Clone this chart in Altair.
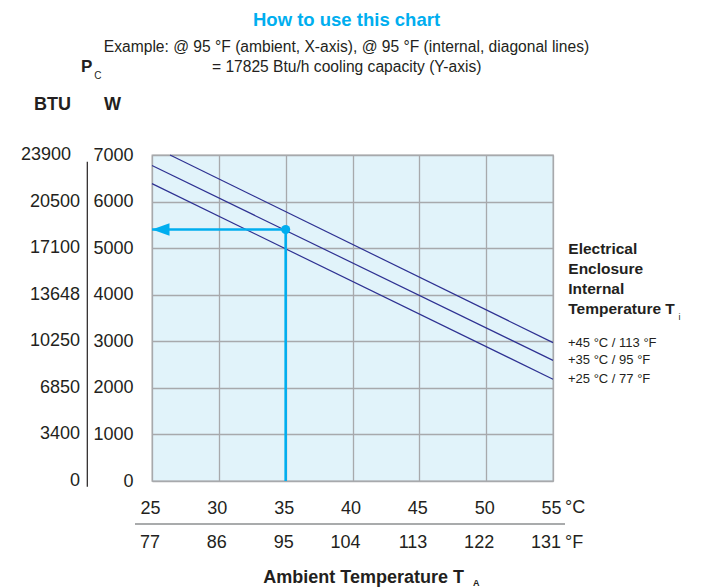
import altair as alt
import pandas as pd

# ---------------- data ----------------
series_names = ["+45 °C / 113 °F", "+35 °C / 95 °F", "+25 °C / 77 °F"]
start_temp = [26.35, 25, 25]
start_watt = [7000, 6775, 6385]
end_temp = [55, 55, 55]
end_watt = [2972, 2590, 2185]

temp_c = [25, 30, 35, 40, 45, 50, 55]
temp_f = ["77", "86", "95", "104", "113", "122", "131"]
watt_ticks = [0, 1000, 2000, 3000, 4000, 5000, 6000, 7000]
btu_ticks = ["0", "3400", "6850", "10250", "13648", "17100", "20500", "23900"]

example_temp = 35
example_watt = 5400
example_floor = 0
arrow_temp = 25

# ---------------- styles ----------------
FONT = "Liberation Sans"
TEXT = "#231f20"
NAVY = "#2e3192"
CYAN = "#00aeef"
GRID = "#a7a9ac"
BG = "#e1f3fa"

W, H = 401, 326

rows = []
for s, t0, w0, t1, w1 in zip(series_names, start_temp, start_watt, end_temp, end_watt):
    rows.append({"series": s, "T": t0, "W": w0, "o": 0})
    rows.append({"series": s, "T": t1, "W": w1, "o": 1})
lines_df = pd.DataFrame(rows)
ends_df = pd.DataFrame({"series": series_names, "T": end_temp, "W": end_watt})
axis_df = pd.DataFrame({"W": watt_ticks, "btu": btu_ticks})
f_df = pd.DataFrame({"T": temp_c, "f": temp_f})
ex_df = pd.DataFrame({"T": [example_temp], "W": [example_watt], "W0": [example_floor], "T2": [arrow_temp]})

xscale = alt.Scale(domain=[25, 55], nice=False, zero=False)
yscale = alt.Scale(domain=[0, 7000], nice=False)
xaxis = alt.Axis(values=temp_c, grid=True, ticks=False, tickSize=0, domain=False, format="d",
                 labelAlign="right", labelOffset=8, labelPadding=27, labelBaseline="middle",
                 labelFontSize=18, labelFont=FONT, labelColor=TEXT, gridColor=GRID, gridWidth=1.3,
                 gridOpacity=1)
yaxis = alt.Axis(values=watt_ticks, grid=True, ticks=False, tickSize=0, domain=False, format="d",
                 labelAlign="right", labelPadding=19, labelBaseline="middle",
                 labelFontSize=18, labelFont=FONT, labelColor=TEXT, gridColor=GRID, gridWidth=1.3,
                 gridOpacity=1)

X = lambda f="T": alt.X(f"{f}:Q", scale=xscale, axis=xaxis, title=None)
Y = lambda f="W": alt.Y(f"{f}:Q", scale=yscale, axis=yaxis, title=None)

lines = alt.Chart(lines_df).mark_line(color=NAVY, strokeWidth=1.2).encode(
    x=X(), y=Y(), detail="series:N", order="o:Q")

legend_text = alt.Chart(ends_df).mark_text(align="left", baseline="middle", dx=15,
                                           fontSize=13, font=FONT, color=TEXT).encode(
    x=X(), y=Y(), text="series:N")

vrule = alt.Chart(ex_df).mark_rule(color=CYAN, strokeWidth=2.6).encode(
    x=X(), y=Y(), y2="W0:Q")
hrule = alt.Chart(ex_df).mark_rule(color=CYAN, strokeWidth=2.6).encode(
    x=X(), x2="T2:Q", y=Y())
arrow = alt.Chart(ex_df).mark_point(shape="M0,0L2,-0.72L2,0.72Z", filled=True, size=306,
                                    color=CYAN, opacity=1, strokeWidth=0).encode(
    x=X("T2"), y=Y())
dot = alt.Chart(ex_df).mark_circle(color=CYAN, size=82, opacity=1).encode(x=X(), y=Y())

btu_low = alt.Chart(axis_df).transform_filter("datum.W < 7000").mark_text(
    align="right", baseline="middle", fontSize=18, font=FONT, color=TEXT).encode(
    x=alt.value(-72), y=Y(), text="btu:N")
btu_top = alt.Chart(axis_df).transform_filter("datum.W >= 7000").mark_text(
    align="right", baseline="middle", fontSize=18, font=FONT, color=TEXT).encode(
    x=alt.value(-81), y=Y(), text="btu:N")

f_text = alt.Chart(f_df).mark_text(align="right", baseline="middle", dx=8, fontSize=18,
                                   font=FONT, color=TEXT).encode(
    x=X(), y=alt.value(388), text="f:N")

one = pd.DataFrame({"a": [0]})


def label(text, x, y, size, weight="normal", align="center", color=TEXT):
    return alt.Chart(one).mark_text(text=text, align=align, baseline="middle", fontSize=size,
                                    fontWeight=weight, font=FONT, color=color).encode(
        x=alt.value(x), y=alt.value(y))


def rule(x, x2, y, y2, color, width):
    return alt.Chart(one).mark_rule(color=color, strokeWidth=width).encode(
        x=alt.value(x), x2=alt.value(x2), y=alt.value(y), y2=alt.value(y2))


texts = [
    label("How to use this chart", 194.5, -135.5, 18.5, "bold", color=CYAN),
    label("Example: @ 95 °F (ambient, X-axis), @ 95 °F (internal, diagonal lines)", 194.5, -108.5, 15.6),
    label("= 17825 Btu/h cooling capacity (Y-axis)", 194.7, -88.5, 15.6),
    label("P", -65.3, -88.5, 17, "bold"),
    label("C", -54.2, -79, 10),
    label("BTU", -99.5, -49.7, 18, "bold"),
    label("W", -39.6, -49.7, 18, "bold"),
    label("°C", 413, 353.3, 18, align="left"),
    label("°F", 413, 388.3, 18, align="left"),
    label("Ambient Temperature T", 111.3, 422.5, 18, "bold", align="left"),
    label("A", 321, 427.5, 9, "bold", align="left"),
    label("Electrical", 416.3, 94, 15.5, "bold", align="left"),
    label("Enclosure", 416.3, 114, 15.5, "bold", align="left"),
    label("Internal", 416.3, 134, 15.5, "bold", align="left"),
    label("Temperature T", 416.3, 154, 15.5, "bold", align="left"),
    label("i", 526.5, 161.5, 9, align="left"),
]

rules = [
    rule(-64.7, -64.7, 6.7, 331.7, "#231f20", 1.2),
    rule(-17, 413, 369, 369, "#8d8f91", 1.6),
]

chart = alt.layer(lines, legend_text, vrule, hrule, arrow, dot, btu_low, btu_top, f_text,
                  *texts, *rules).properties(
    width=W, height=H,
    autosize=alt.AutoSizeParams(type="none"),
    padding={"left": 144, "top": 147, "right": 142, "bottom": 106},
    background="white",
).configure_view(fill=BG, stroke=GRID, strokeWidth=1.3)

chart.save("out.html", embed_options={"renderer": "svg", "actions": False})
